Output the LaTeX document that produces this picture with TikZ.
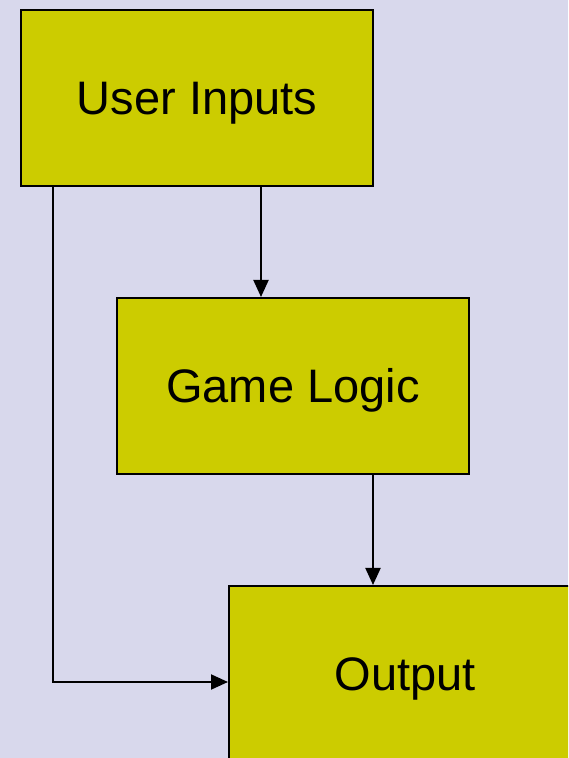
\documentclass[tikz,border=0pt]{standalone}
\usepackage{fontspec}
\setmainfont{Liberation Sans}
\usetikzlibrary{arrows.meta}
\definecolor{bgc}{HTML}{D8D8EC}
\definecolor{boxc}{HTML}{CCCC00}
\begin{document}
\begin{tikzpicture}[x=1pt,y=1pt,
  box/.style={draw=black, line width=2pt, fill=boxc, minimum width=352pt, minimum height=176pt, inner sep=0pt, text=black, text height=33.7pt, text depth=0pt, font=\fontsize{47}{56}\selectfont},
  arr/.style={draw=black, line width=2pt, -{Triangle[length=17pt,width=15pt]}}]
\useasboundingbox (0,0) rectangle (568,758);
\clip (0,0) rectangle (568,758);
\fill[bgc] (0,0) rectangle (568,758);
\node[box] (ui) at (197,660) {User Inputs};
\node[box] (gl) at (293,372) {Game Logic};
\node[box] (out) at (405,84) {Output};
\coordinate (c1) at (261,0);
\coordinate (c2) at (373,0);
\coordinate (c3) at (53,0);
\coordinate (c4) at (0,76);
\draw[arr] (ui.south -| c1) -- (gl.north -| c1);
\draw[arr] (gl.south -| c2) -- (out.north -| c2);
\draw[arr] (ui.south -| c3) |- (out.west |- c4);
\end{tikzpicture}
\end{document}
